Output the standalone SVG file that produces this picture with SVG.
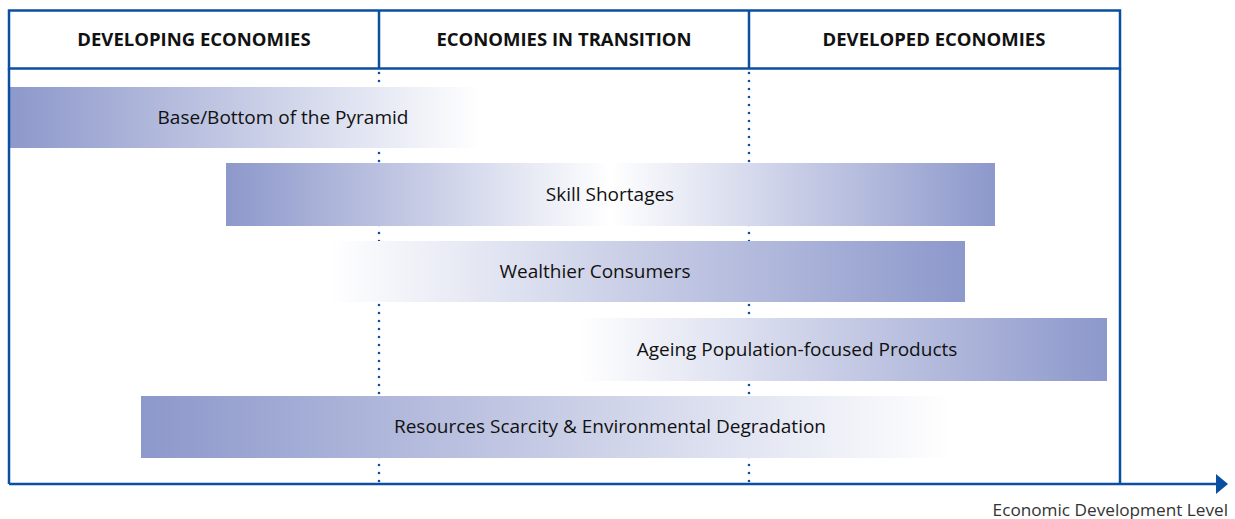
<svg xmlns="http://www.w3.org/2000/svg" width="1235" height="519" viewBox="0 0 1235 519">
<style>
.frame{fill:none;stroke:#0b4fa0;stroke-width:2.5}
.dot{stroke:#0b4fa0;stroke-width:2.6;stroke-linecap:round;stroke-dasharray:0 8;fill:none}
.hdr{font-family:"Open Sans","Liberation Sans",sans-serif;font-weight:bold;font-size:18.5px;fill:#111;text-anchor:middle}
.lbl{font-family:"Open Sans","Liberation Sans",sans-serif;font-size:19px;fill:#111;text-anchor:middle}
.axl{font-family:"Open Sans","Liberation Sans",sans-serif;font-size:17.2px;fill:#333;text-anchor:end}
</style>
<defs>
<linearGradient id="gL" x1="0" y1="0" x2="1" y2="0"><stop offset="0" stop-color="#8d98cb"/><stop offset="1" stop-color="#ffffff"/></linearGradient>
<linearGradient id="gR" x1="0" y1="0" x2="1" y2="0"><stop offset="0" stop-color="#ffffff"/><stop offset="1" stop-color="#8d98cb"/></linearGradient>
<linearGradient id="gB" x1="0" y1="0" x2="1" y2="0"><stop offset="0" stop-color="#8d98cb"/><stop offset="0.5" stop-color="#ffffff"/><stop offset="1" stop-color="#8d98cb"/></linearGradient>
<marker id="arr" markerWidth="12" markerHeight="20" refX="0" refY="10" orient="auto" markerUnits="userSpaceOnUse"><path d="M0,0 L12,10 L0,20 Z" fill="#0b4fa0"/></marker>
</defs>
<g id="connectors">
<path class="dot" d="M379,73 V484"/>
<path class="dot" d="M749,73 V484"/>
</g>
<g id="bar-base"><rect x="9" y="87" width="472" height="61" fill="url(#gL)"/><text class="lbl" x="283" y="124">Base/Bottom of the Pyramid</text></g>
<g id="bar-skill"><rect x="226" y="163" width="769" height="63" fill="url(#gB)"/><text class="lbl" x="610" y="201">Skill Shortages</text></g>
<g id="bar-wealth"><rect x="330" y="241" width="635" height="61" fill="url(#gR)"/><text class="lbl" x="595" y="278">Wealthier Consumers</text></g>
<g id="bar-ageing"><rect x="578" y="318" width="529" height="63" fill="url(#gR)"/><text class="lbl" x="797" y="356">Ageing Population-focused Products</text></g>
<g id="bar-resources"><rect x="141" y="396" width="812" height="62" fill="url(#gL)"/><text class="lbl" x="610" y="433">Resources Scarcity &amp; Environmental Degradation</text></g>
<g id="header">
<rect class="frame" x="9" y="10.5" width="1111" height="58"/>
<path class="frame" d="M379,10.5 V68.5 M749,10.5 V68.5"/>
<text class="hdr" x="194" y="46">DEVELOPING ECONOMIES</text>
<text class="hdr" x="564" y="46">ECONOMIES IN TRANSITION</text>
<text class="hdr" x="934" y="46">DEVELOPED ECONOMIES</text>
</g>
<g id="axis">
<path class="frame" d="M9,68.5 V484 M1120,68.5 V484"/>
<path class="frame" d="M9,484 H1216" marker-end="url(#arr)"/>
<text class="axl" x="1228" y="516">Economic Development Level</text>
</g>
</svg>
